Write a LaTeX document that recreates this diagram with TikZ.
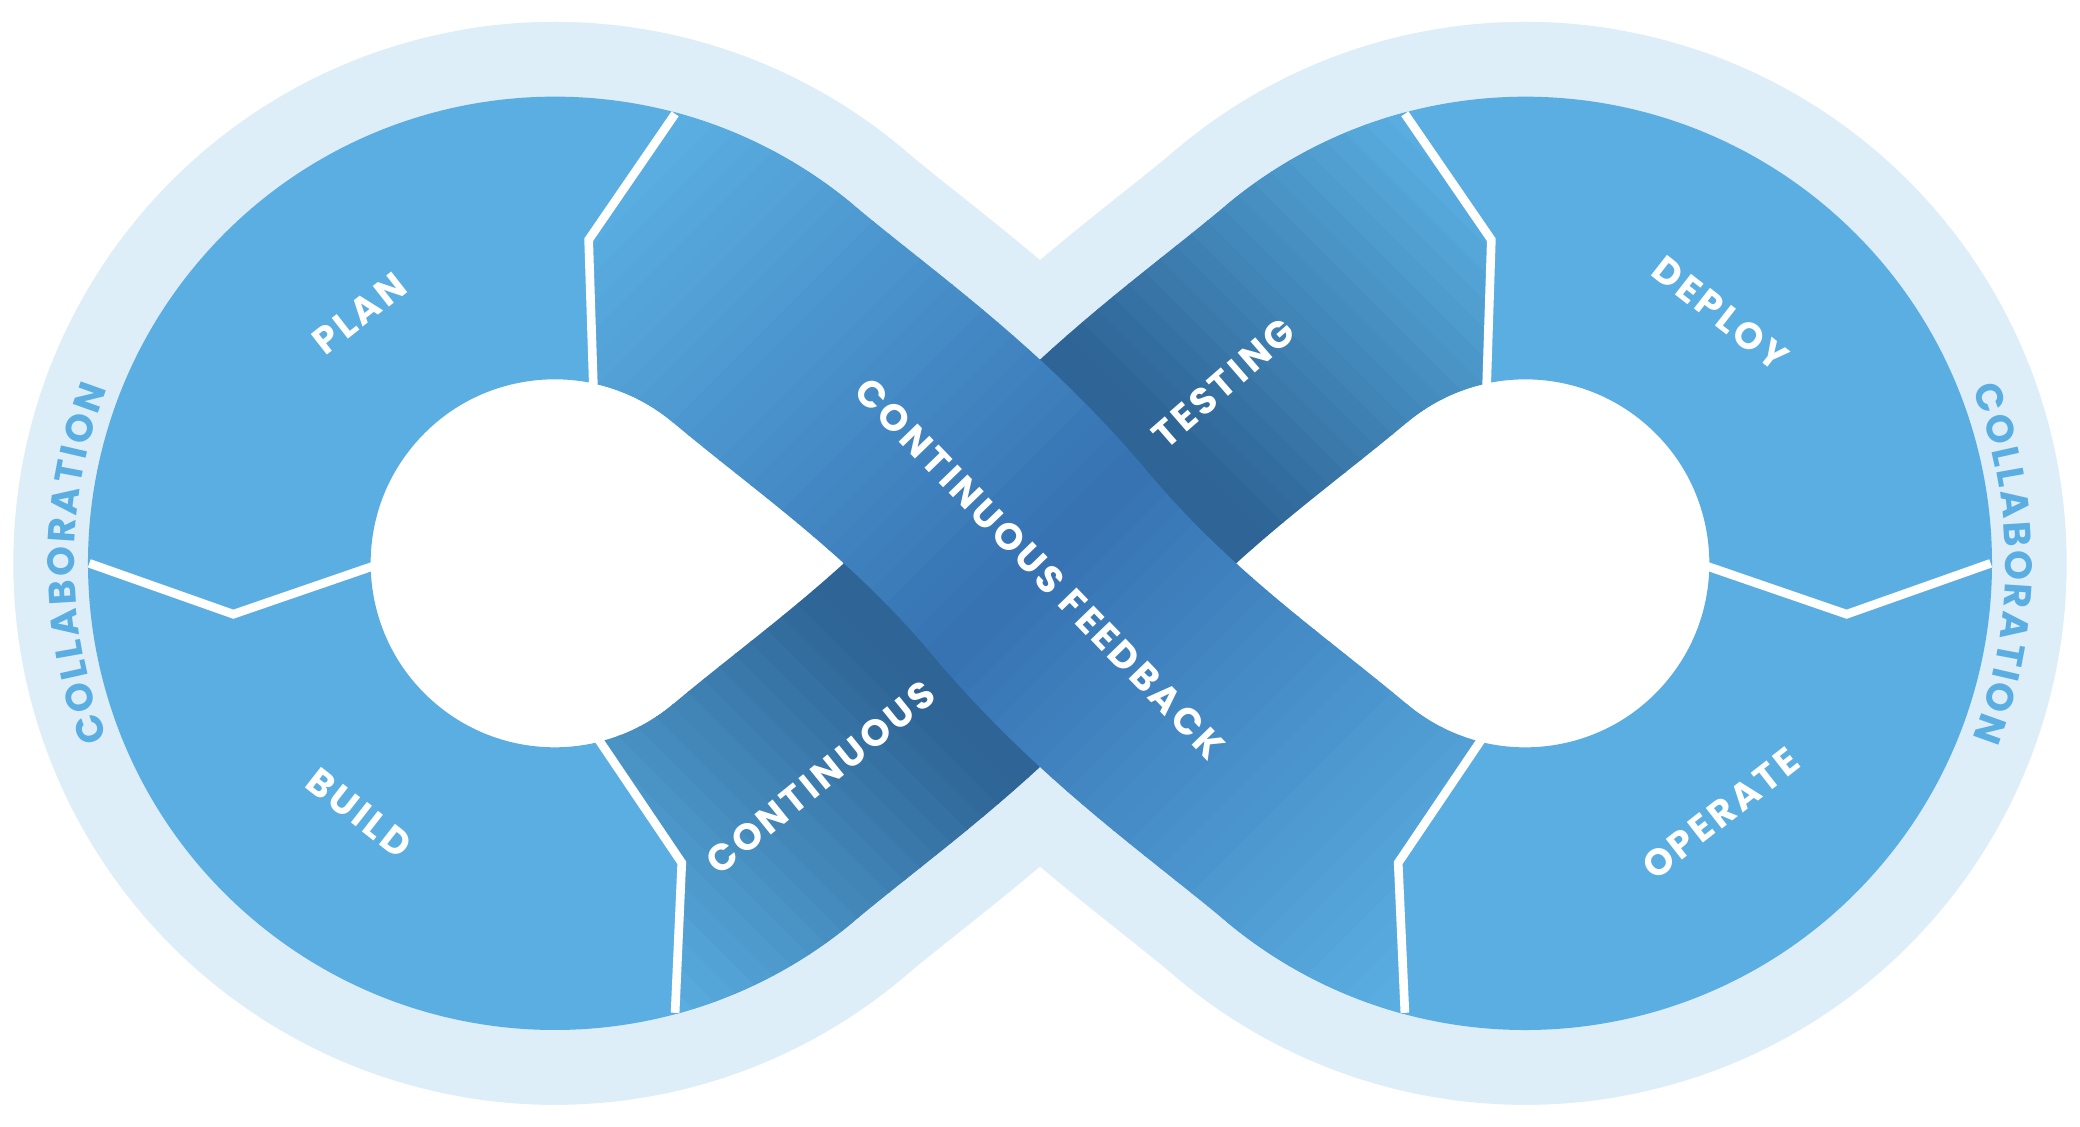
\documentclass[tikz,border=0pt]{standalone}
\usepackage{fontspec}
\newfontfamily\labfam{Poppins Bold}[LetterSpace=9]
\newfontfamily\colfam{Poppins Bold}
\definecolor{bandc}{HTML}{DDEEF9}
\definecolor{ringc}{HTML}{5AAEE1}
\definecolor{cfd}{HTML}{3672B2}
\definecolor{rtd}{HTML}{2E6596}
\newdimen\chw
\newdimen\acc
\newcommand\lblfont{\labfam\fontsize{28}{32}\selectfont}
\newcommand\colfont{\colfam\fontsize{28.5}{34}\selectfont}
\def\lsp{2.2}
% curved COLLABORATION text: #1 name prefix, #2 cx, #3 cy, #4 mid angle, #5 radius
\newcommand\curvetext[5]{%
  \pgfmathsetmacro\thst{#4+(\cwtot+12*\lsp)/2/#5*57.29578}%
  \global\let\thstg\thst
  \global\acc=0pt
  \foreach \ch [count=\k] in {C,O,L,L,A,B,O,R,A,T,I,O,N}{%
    \chw=\csname cw\k\endcsname\relax
    \pgfmathsetmacro\ang{\thstg-(\acc+0.5*\chw)/#5*57.29578}%
    \pgfmathsetmacro\px{#2+#5*cos(\ang)}%
    \pgfmathsetmacro\py{#3+#5*sin(\ang)}%
    \node[coltext, rotate=\ang-90] (#1\k) at (\px,\py) {\ch};%
    \global\advance\acc by \chw \global\advance\acc by \lsp pt}%
}
\def\ribA{(-406.37,240.29) arc[start angle=100,end angle=50,radius=244pt] .. controls (-145.88,135.48) and (-70.7,84.3) .. (0,0) .. controls (70.7,-84.3) and (145.88,-135.48) .. (207.16,-186.92) arc[start angle=230,end angle=280,radius=244pt]}
\def\ribB{(-406.37,-240.29) arc[start angle=-100,end angle=-50,radius=244pt] .. controls (-145.88,-135.48) and (-70.7,-84.3) .. (0,0) .. controls (70.7,84.3) and (145.88,135.48) .. (207.16,186.92) arc[start angle=130,end angle=80,radius=244pt]}
\tikzset{
  sep/.style={white, line width=6.5pt, line join=miter},
  lbl/.style={text=white, font=\lblfont, inner sep=0pt},
  coltext/.style={text=ringc, font=\colfont, inner sep=0pt, anchor=base},
}
\begin{document}%
\global\acc=0pt%
\foreach \ch [count=\k] in {C,O,L,L,A,B,O,R,A,T,I,O,N}{%
  \settowidth{\chw}{\colfont\ch}%
  \expandafter\xdef\csname cw\k\endcsname{\the\chw}%
  \global\advance\acc by \chw}%
\xdef\cwtot{\the\acc}%
\begin{tikzpicture}[x=1pt,y=1pt]
\useasboundingbox (-780,-422.5) rectangle (780,422.5);
\fill[white] (-780,-422.5) rectangle (780,422.5);
% light outer band
\draw[bandc, line width=324pt] (-364,0) circle[radius=244pt] (364,0) circle[radius=244pt];
\draw[bandc, line width=324pt] \ribA;
\draw[bandc, line width=324pt] \ribB;
% holes
\fill[white] (0,0) .. controls (-70.7,84.3) and (-145.88,135.48) .. (-207.16,186.92) arc[start angle=50,end angle=310,radius=244pt] .. controls (-145.88,-135.48) and (-70.7,-84.3) .. (0,0) -- cycle;
\fill[white] (0,0) .. controls (70.7,84.3) and (145.88,135.48) .. (207.16,186.92) arc[start angle=130,end angle=-130,radius=244pt] .. controls (145.88,-135.48) and (70.7,-84.3) .. (0,0) -- cycle;
% rings (outer arcs only)
\draw[ringc, line width=212pt] (-207.16,186.92) arc[start angle=50,end angle=310,radius=244pt];
\draw[ringc, line width=212pt] (207.16,-186.92) arc[start angle=-130,end angle=130,radius=244pt];
% ribbon 2 (continuous / testing)
\begin{scope}
\clip (-182.83,-676.15) -- (-272.9,-340.0) -- (-268.66,-224.6) -- (-333.86,-130.57) -- (-364,0) -- (-364,900) -- (182.83,676.15) -- (272.9,340.0) -- (338.5,242.66) -- (333.86,130.57) -- (364,0) -- (1000,0) -- (1000,-900) -- (-182.83,-900) -- cycle;
\foreach \s in {-450,-435,...,435}{
  \pgfmathsetmacro\m{100*min(max(abs(\s+8)-140,0)/290,1)}
  \begin{scope}
  \clip[rotate=45] (\s,-900) rectangle (\s+16,900);
  \draw[line width=212pt, color=ringc!\m!rtd] \ribB;
  \end{scope}
}
\end{scope}
% ribbon 1 (continuous feedback)
\begin{scope}
\clip (-182.83,676.15) -- (-272.9,340.0) -- (-338.5,242.66) -- (-333.86,130.57) -- (-364,0) -- (-364,-900) -- (182.83,-676.15) -- (272.9,-340.0) -- (268.66,-224.6) -- (333.86,-130.57) -- (364,0) -- (1000,0) -- (1000,900) -- (-182.83,900) -- cycle;
\foreach \s in {-450,-435,...,435}{
  \pgfmathsetmacro\m{100*min(abs(\s+8)/420,1)}
  \begin{scope}
  \clip[rotate=-45] (\s,-900) rectangle (\s+16,900);
  \draw[line width=212pt, color=ringc!\m!cfd] \ribA;
  \end{scope}
}
\end{scope}
% separators
\draw[sep] (-273.67,337.11) -- (-338.5,242.66) -- (-334.76,126.67);
\draw[sep] (-713,0) -- (-605.0,-38.17) -- (-494,0);
\draw[sep] (-273.67,-337.11) -- (-268.66,-224.6) -- (-334.76,-126.67);
\draw[sep] (273.67,337.11) -- (338.5,242.66) -- (334.76,126.67);
\draw[sep] (713,0) -- (605.0,-38.17) -- (494,0);
\draw[sep] (273.67,-337.11) -- (268.66,-224.6) -- (334.76,-126.67);
% labels
\node[lbl, rotate=38] (plan) at (-510.5,187.5) {PLAN};
\node[lbl, rotate=-38] (build) at (-510.5,-187.5) {BUILD};
\node[lbl, rotate=-38] (deploy) at (510.5,187.5) {DEPLOY};
\node[lbl, rotate=38] (operate) at (510.5,-187.5) {OPERATE};
\node[lbl, rotate=39, anchor=east] (cont) at (-82,-94) {CONTINUOUS};
\node[lbl, rotate=41, anchor=west] (test) at (88,92) {TESTING};
\node[lbl, rotate=-46] (cfb) at (0,-4) {CONTINUOUS FEEDBACK};
% collaboration
\curvetext{cl}{-364}{0}{180}{360}
\curvetext{cr}{364}{0}{0}{360}
\end{tikzpicture}%
\end{document}
